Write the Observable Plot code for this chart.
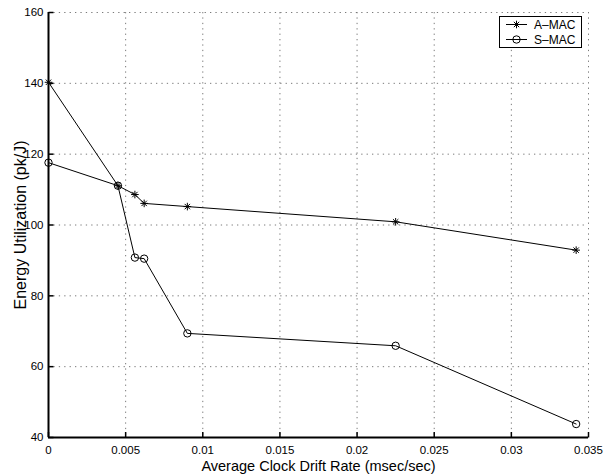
<!DOCTYPE html>
<html><head><meta charset="utf-8">
<script src="https://cdn.jsdelivr.net/npm/d3@7"></script>
<script src="https://cdn.jsdelivr.net/npm/@observablehq/plot@0.6"></script>
<style>
body{margin:0;background:#fff;}
#chart svg{display:block;}
</style></head><body><div id="chart"></div>
<script>
const driftRates = [0, 0.0045, 0.0056, 0.0062, 0.009, 0.0225, 0.0342];
const amacEnergy = [140.3, 111.1, 108.6, 106.1, 105.2, 100.9, 92.9];
const smacEnergy = [117.6, 111.1, 90.8, 90.5, 69.4, 65.9, 43.8];
const seriesNames = ["A\u2013MAC", "S\u2013MAC"];
const xTicks = [0, 0.005, 0.01, 0.015, 0.02, 0.025, 0.03, 0.035];
const xTickLabels = ["0", "0.005", "0.01", "0.015", "0.02", "0.025", "0.03", "0.035"];
const yTicks = [40, 60, 80, 100, 120, 140, 160];
const yTickLabels = ["40", "60", "80", "100", "120", "140", "160"];
const xLabel = "Average Clock Drift Rate (msec/sec)";
const yLabel = "Energy Utilization (pk/J)";

const FONT = "'Liberation Sans', Arial, Helvetica, sans-serif";

const amac = driftRates.map((x, i) => ({x, y: amacEnergy[i]}));
const smac = driftRates.map((x, i) => ({x, y: smacEnergy[i]}));

// custom symbols
const asterisk = {
  draw(ctx, size) {
    const r = Math.sqrt(size / Math.PI);
    const d = r * Math.SQRT1_2;
    ctx.moveTo(-r, 0); ctx.lineTo(r, 0);
    ctx.moveTo(0, -r); ctx.lineTo(0, r);
    ctx.moveTo(-d, -d); ctx.lineTo(d, d);
    ctx.moveTo(-d, d); ctx.lineTo(d, -d);
  }
};
const tickRight = {draw(ctx, size) { const r = Math.sqrt(size / Math.PI); ctx.moveTo(0, 0); ctx.lineTo(r, 0); }};
const tickUp = {draw(ctx, size) { const r = Math.sqrt(size / Math.PI); ctx.moveTo(0, 0); ctx.lineTo(0, -r); }};

const gridStyle = {stroke: "#7a7a7a", strokeWidth: 1, strokeDasharray: "1.3,4.1"};

const chart = Plot.plot({
  width: 603,
  height: 474,
  marginLeft: 48,
  marginRight: 15,
  marginTop: 12,
  marginBottom: 37,
  style: {fontFamily: FONT, background: "#fff", color: "#000", overflow: "visible"},
  x: {domain: [0, 0.035], axis: null},
  y: {domain: [40, 160], axis: null},
  marks: [
    Plot.ruleX(xTicks.slice(1), {x: d => d, ...gridStyle}),
    Plot.ruleY(yTicks.slice(1), {y: d => d, ...gridStyle}),
    Plot.ruleX([0], {stroke: "#000", strokeWidth: 2}),
    Plot.ruleY([40], {stroke: "#000", strokeWidth: 2}),
    Plot.dot(yTicks, {x: () => 0, y: d => d, symbol: tickRight, r: 5, stroke: "#000", fill: "none", strokeWidth: 1.5}),
    Plot.dot(xTicks, {x: d => d, y: () => 40, symbol: tickUp, r: 5.5, stroke: "#000", fill: "none", strokeWidth: 1.5}),
    Plot.text(xTicks, {x: d => d, text: (d, i) => xTickLabels[i], frameAnchor: "bottom", dy: 16, lineAnchor: "bottom", fontSize: 11.5, fill: "#000"}),
    Plot.text(yTicks, {y: d => d, text: (d, i) => yTickLabels[i], frameAnchor: "left", dx: -5, textAnchor: "end", lineAnchor: "middle", fontSize: 11.5, fill: "#000"}),
    Plot.text([xLabel], {frameAnchor: "bottom", dy: 33, lineAnchor: "bottom", textAnchor: "middle", fontSize: 14.5, fill: "#000"}),
    Plot.text([yLabel], {frameAnchor: "left", dx: -23, rotate: -90, lineAnchor: "bottom", textAnchor: "middle", fontSize: 16, fill: "#000"}),
    Plot.line(amac, {x: "x", y: "y", stroke: "#000", strokeWidth: 1}),
    Plot.line(smac, {x: "x", y: "y", stroke: "#000", strokeWidth: 1}),
    Plot.dot(amac, {x: "x", y: "y", symbol: asterisk, r: 3.8, stroke: "#000", fill: "none", strokeWidth: 1}),
    Plot.dot(smac, {x: "x", y: "y", symbol: "circle", r: 3.7, stroke: "#000", fill: "none", strokeWidth: 1})
  ]
});

document.getElementById("chart").appendChild(chart);

// legend
const svg = d3.select(chart);
const lg = svg.append("g");
lg.append("rect").attr("x", 499.5).attr("y", 16.5).attr("width", 82).attr("height", 31)
  .attr("fill", "#fff").attr("stroke", "#000").attr("stroke-width", 1);
const rows = [{name: seriesNames[0], sym: asterisk, rad: 3.8, y: 24.5}, {name: seriesNames[1], sym: d3.symbolCircle, rad: 3.7, y: 39.5}];
rows.forEach(r => {
  lg.append("line").attr("x1", 506).attr("x2", 527).attr("y1", r.y).attr("y2", r.y).attr("stroke", "#000");
  lg.append("path").attr("transform", `translate(516.5,${r.y})`)
    .attr("d", d3.symbol().type(r.sym).size(Math.PI * r.rad * r.rad)())
    .attr("fill", "none").attr("stroke", "#000");
  lg.append("text").attr("x", 534).attr("y", r.y).attr("dy", "0.35em")
    .attr("text-anchor", "start")
    .style("font-family", FONT).style("font-size", "12px").style("fill", "#000")
    .text(r.name);
});
</script>
</body></html>
